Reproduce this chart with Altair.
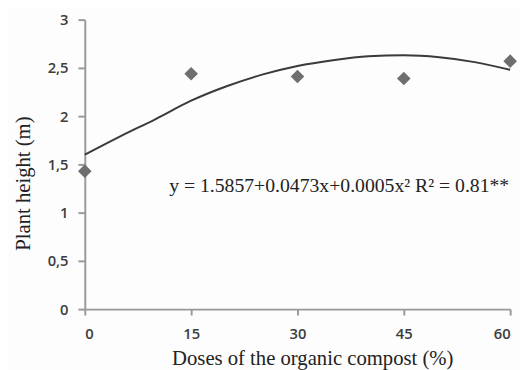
import altair as alt
import pandas as pd

doses = [0, 15, 30, 45, 60]
heights = [1.43, 2.44, 2.41, 2.39, 2.57]

curve_x = [0, 5, 10, 15, 20, 25, 30, 35, 40, 45, 50, 55, 60]
curve_y = [1.60, 1.79, 1.97, 2.16, 2.31, 2.43, 2.52, 2.58, 2.62, 2.63, 2.61, 2.56, 2.48]

eq_text = ["y = 1.5857+0.0473x+0.0005x² R² = 0.81**"]
eq_x = [11.9]
eq_y = [1.28]

pts = pd.DataFrame({"dose": doses, "height": heights})
cur = pd.DataFrame({"dose": curve_x, "height": curve_y})
ann = pd.DataFrame({"dose": eq_x, "height": eq_y, "label": eq_text})

xscale = alt.Scale(domain=[0, 60], nice=False, zero=False)
yscale = alt.Scale(domain=[0, 3], nice=False)

xaxis = alt.Axis(values=[0, 15, 30, 45, 60], title="Doses of the organic compost (%)",
                 grid=False, tickSize=6, labelPadding=12,
                 titleX=231, titleY=50, titleBaseline="middle")
yaxis = alt.Axis(values=[0, 0.5, 1, 1.5, 2, 2.5, 3], title="Plant height (m)",
                 grid=False, tickSize=7, labelPadding=10,
                 labelExpr="replace(format(datum.value, '~g'), '.', ',')",
                 titleX=-62, titleY=166, titleBaseline="middle", titleAngle=270)

line = alt.Chart(cur).mark_line(color="#3a3a3a", strokeWidth=2, interpolate="monotone").encode(
    x=alt.X("dose:Q", scale=xscale, axis=xaxis),
    y=alt.Y("height:Q", scale=yscale, axis=yaxis),
)

points = alt.Chart(pts).mark_point(shape="diamond", filled=True, color="#6e6e6e",
                                    size=190, opacity=1).encode(
    x=alt.X("dose:Q", scale=xscale),
    y=alt.Y("height:Q", scale=yscale),
)

text = alt.Chart(ann).mark_text(align="left", baseline="middle", font="Liberation Serif",
                                 fontSize=20, color="#222").encode(
    x=alt.X("dose:Q", scale=xscale),
    y=alt.Y("height:Q", scale=yscale),
    text="label:N",
)

chart = (line + points + text).properties(
    width=432, height=294,
    autosize=alt.AutoSizeParams(type="none"),
    padding={"left": 78, "top": 9, "right": 10, "bottom": 59},
    background="#fdfdfd",
).configure_view(stroke=None).configure_axis(
    domainColor="#999999", domainWidth=2, tickColor="#999999", tickWidth=2,
    labelFont="Open Sans", labelFontSize=15, labelColor="#3c3c3c", labelFontWeight=600,
    titleFont="Liberation Serif", titleFontSize=21, titleFontWeight="normal", titleColor="#222",
)

chart.save("out.html", embed_options={"renderer": "svg", "actions": False})
